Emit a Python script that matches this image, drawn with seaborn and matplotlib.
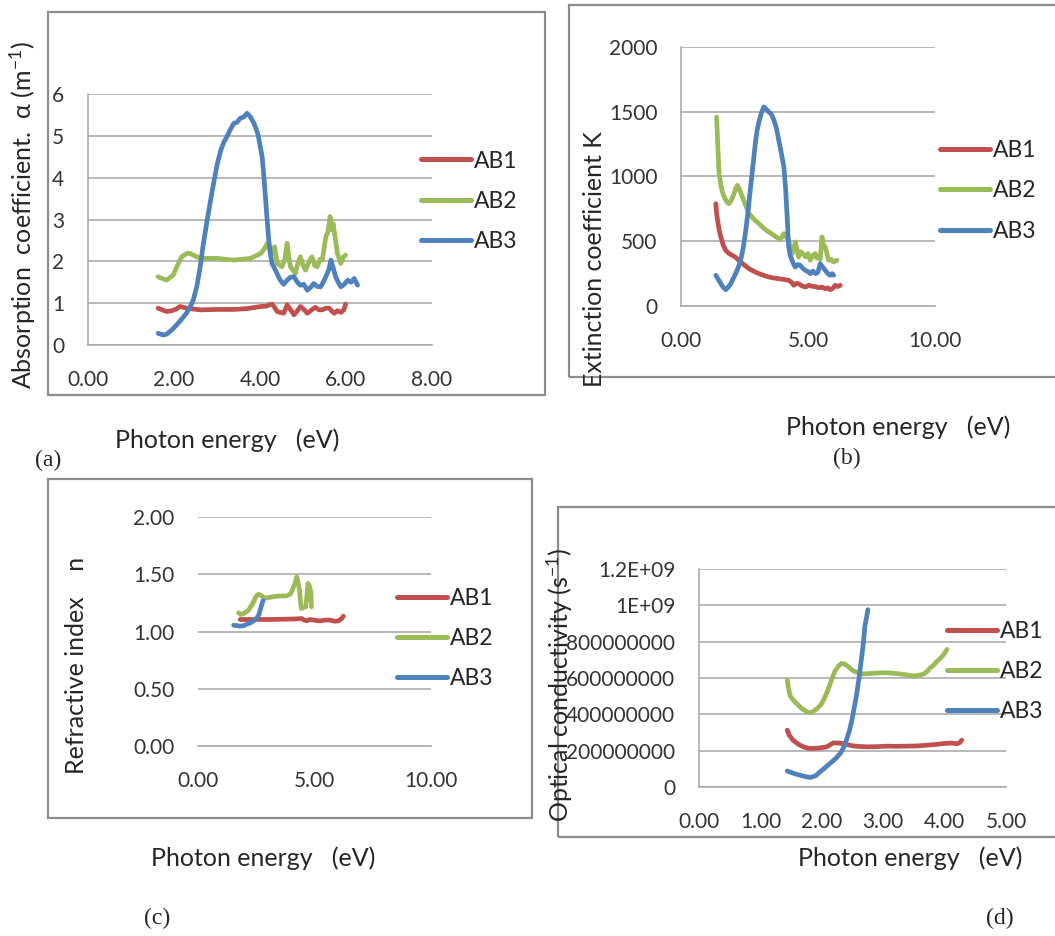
import numpy as np
import pandas as pd
import matplotlib
matplotlib.use("Agg")
import matplotlib.pyplot as plt
import seaborn as sns
from matplotlib.patches import Rectangle
from matplotlib.lines import Line2D

sns.set_style("white")
plt.rcParams["font.family"] = ["Lato", "DejaVu Sans"]
plt.rcParams["mathtext.default"] = "regular"

samples = ["AB1", "AB2", "AB3"]
colors = ["#C0504D", "#9BBB59", "#4F81BD"]

# ---------------- (a) absorption coefficient ----------------
a_ab1_x = [1.63, 1.75, 1.83, 1.95, 2.05, 2.14, 2.30, 2.61, 3.00, 3.39, 3.70, 4.02, 4.15, 4.28, 4.35, 4.40, 4.55,
           4.63, 4.70, 4.79, 4.87, 4.94, 5.02, 5.10, 5.20, 5.29, 5.37, 5.45, 5.53, 5.61, 5.68, 5.73, 5.80, 5.88,
           5.95, 5.99]
a_ab1_y = [0.88, 0.83, 0.80, 0.82, 0.86, 0.92, 0.88, 0.84, 0.85, 0.85, 0.87, 0.92, 0.93, 0.98, 0.88, 0.80, 0.76,
           0.96, 0.86, 0.72, 0.82, 0.92, 0.85, 0.76, 0.84, 0.90, 0.84, 0.84, 0.88, 0.88, 0.80, 0.76, 0.82, 0.78,
           0.84, 0.98]
a_ab2_x = [1.63, 1.75, 1.83, 1.98, 2.08, 2.18, 2.30, 2.37, 2.50, 2.61, 3.00, 3.39, 3.78, 4.02, 4.10, 4.17, 4.22,
           4.28, 4.34, 4.40, 4.51, 4.58, 4.63, 4.67, 4.71, 4.82, 4.88, 4.94, 5.00, 5.06, 5.14, 5.21, 5.27, 5.33,
           5.40, 5.45, 5.53, 5.58, 5.63, 5.67, 5.70, 5.75, 5.80, 5.88, 5.94, 5.99]
a_ab2_y = [1.63, 1.58, 1.55, 1.67, 1.90, 2.11, 2.19, 2.19, 2.12, 2.07, 2.07, 2.03, 2.07, 2.19, 2.30, 2.43, 2.30,
           2.19, 2.35, 1.95, 1.87, 2.05, 2.43, 2.10, 1.87, 1.71, 1.95, 2.11, 1.90, 1.79, 2.00, 2.11, 1.90, 1.87,
           2.05, 2.03, 2.59, 2.70, 3.07, 2.75, 2.90, 2.55, 2.19, 1.95, 2.10, 2.15]
a_ab3_x = [1.63, 1.75, 1.83, 1.95, 2.06, 2.18, 2.29, 2.38, 2.45, 2.53, 2.61, 2.68, 2.76, 2.84, 2.92, 3.00, 3.09,
           3.16, 3.23, 3.31, 3.39, 3.46, 3.54, 3.62, 3.70, 3.78, 3.86, 3.95, 4.05, 4.10, 4.16, 4.20, 4.24, 4.28,
           4.32, 4.40, 4.47, 4.55, 4.63, 4.71, 4.79, 4.87, 4.94, 5.02, 5.10, 5.18, 5.25, 5.33, 5.41, 5.47, 5.53,
           5.60, 5.65, 5.70, 5.76, 5.82, 5.88, 5.96, 6.04, 6.12, 6.19, 6.27]
a_ab3_y = [0.28, 0.24, 0.26, 0.36, 0.48, 0.62, 0.76, 0.92, 1.08, 1.40, 1.87, 2.40, 2.91, 3.40, 3.86, 4.30, 4.66,
           4.85, 4.98, 5.15, 5.30, 5.32, 5.42, 5.45, 5.54, 5.45, 5.30, 5.05, 4.50, 3.90, 3.07, 2.55, 2.19, 1.95,
           1.87, 1.70, 1.55, 1.45, 1.55, 1.62, 1.63, 1.50, 1.43, 1.45, 1.31, 1.38, 1.47, 1.40, 1.39, 1.50, 1.63,
           1.80, 2.03, 1.85, 1.63, 1.50, 1.39, 1.45, 1.55, 1.50, 1.59, 1.43]

# ---------------- (b) extinction coefficient ----------------
b_ab1_x = [1.37, 1.40, 1.44, 1.50, 1.57, 1.66, 1.76, 1.89, 2.02, 2.15, 2.28, 2.48, 2.68, 2.87, 3.07, 3.26, 3.46,
           3.66, 3.85, 4.05, 4.24, 4.34, 4.44, 4.54, 4.63, 4.76, 4.90, 5.03, 5.16, 5.29, 5.42, 5.55, 5.68, 5.78,
           5.87, 5.97, 6.07, 6.17, 6.27]
b_ab1_y = [790, 720, 662, 590, 533, 470, 430, 405, 391, 375, 353, 318, 288, 268, 250, 236, 224, 216, 211, 205, 198,
           185, 160, 175, 172, 155, 147, 160, 152, 150, 141, 145, 134, 140, 126, 135, 160, 150, 160]
b_ab2_x = [1.40, 1.42, 1.44, 1.47, 1.50, 1.57, 1.63, 1.70, 1.80, 1.89, 1.99, 2.09, 2.15, 2.22, 2.30, 2.42, 2.55,
           2.68, 2.87, 3.07, 3.26, 3.46, 3.66, 3.85, 3.95, 4.05, 4.15, 4.24, 4.30, 4.37, 4.44, 4.50, 4.57, 4.63,
           4.70, 4.80, 4.90, 5.00, 5.09, 5.19, 5.29, 5.35, 5.42, 5.48, 5.55, 5.62, 5.68, 5.75, 5.81, 5.91, 6.01,
           6.14]
b_ab2_y = [1459, 1370, 1279, 1140, 1022, 930, 880, 842, 805, 790, 820, 867, 905, 932, 900, 842, 775, 713, 670, 636,
           600, 571, 545, 520, 525, 559, 530, 507, 450, 405, 440, 495, 430, 378, 420, 405, 380, 405, 353, 390, 405,
           370, 378, 360, 533, 460, 456, 400, 353, 360, 340, 353]
b_ab3_x = [1.37, 1.47, 1.57, 1.66, 1.76, 1.86, 1.96, 2.05, 2.15, 2.25, 2.35, 2.45, 2.55, 2.65, 2.74, 2.84, 2.94,
           3.00, 3.07, 3.16, 3.26, 3.36, 3.46, 3.56, 3.66, 3.76, 3.85, 3.95, 4.05, 4.12, 4.18, 4.21, 4.24, 4.30,
           4.37, 4.44, 4.50, 4.60, 4.70, 4.80, 4.90, 5.00, 5.09, 5.19, 5.29, 5.39, 5.48, 5.58, 5.68, 5.78, 5.87,
           5.95, 6.01]
b_ab3_y = [237, 205, 172, 145, 126, 145, 172, 210, 250, 295, 353, 450, 584, 750, 919, 1100, 1279, 1360, 1421, 1490,
           1537, 1520, 1498, 1480, 1434, 1370, 1279, 1180, 1073, 900, 687, 560, 456, 390, 353, 320, 301, 320, 314,
           290, 275, 265, 250, 270, 250, 260, 327, 300, 275, 250, 237, 250, 237]

# ---------------- (c) refractive index ----------------
c_ab1_x = [1.81, 2.39, 3.10, 3.81, 4.20, 4.46, 4.55, 4.67, 4.80, 4.96, 5.10, 5.24, 5.45, 5.67, 5.85, 6.03, 6.17, 6.24]
c_ab1_y = [1.105, 1.105, 1.105, 1.108, 1.110, 1.113, 1.100, 1.093, 1.105, 1.100, 1.095, 1.093, 1.100, 1.100, 1.090,
           1.093, 1.113, 1.134]
c_ab2_x = [1.74, 1.85, 1.96, 2.17, 2.39, 2.50, 2.60, 2.74, 2.89, 3.10, 3.46, 3.81, 3.98, 4.10, 4.18, 4.24, 4.30,
           4.36, 4.40, 4.44, 4.54, 4.62, 4.67, 4.72, 4.78, 4.84, 4.87]
c_ab2_y = [1.163, 1.150, 1.157, 1.186, 1.260, 1.310, 1.326, 1.310, 1.290, 1.300, 1.310, 1.310, 1.330, 1.390, 1.430,
           1.477, 1.420, 1.360, 1.250, 1.200, 1.210, 1.215, 1.300, 1.420, 1.400, 1.346, 1.215]
c_ab3_x = [1.53, 1.70, 1.81, 1.95, 2.10, 2.25, 2.39, 2.48, 2.56, 2.62, 2.67, 2.73, 2.79]
c_ab3_y = [1.055, 1.050, 1.047, 1.050, 1.064, 1.075, 1.093, 1.110, 1.128, 1.150, 1.190, 1.230, 1.270]

# ---------------- (d) optical conductivity ----------------
d_ab1_x = [1.437, 1.47, 1.53, 1.62, 1.70, 1.78, 1.86, 1.97, 2.08, 2.15, 2.19, 2.27, 2.35, 2.43, 2.51, 2.62, 2.73,
           2.90, 3.06, 3.22, 3.38, 3.55, 3.71, 3.85, 3.98, 4.10, 4.20, 4.25, 4.28]
d_ab1_y = [313e6, 285e6, 258e6, 235e6, 221e6, 213e6, 212e6, 215e6, 221e6, 235e6, 243e6, 242e6, 239e6, 232e6,
           226e6, 223e6, 221e6, 222e6, 225e6, 224e6, 225e6, 226e6, 230e6, 234e6, 239e6, 242e6, 238e6, 245e6, 258e6]
d_ab2_x = [1.437, 1.45, 1.48, 1.52, 1.56, 1.62, 1.67, 1.73, 1.78, 1.84, 1.89, 1.95, 2.00, 2.05, 2.10, 2.16, 2.21,
           2.27, 2.32, 2.38, 2.43, 2.49, 2.54, 2.60, 2.65, 2.75, 2.84, 2.95, 3.06, 3.17, 3.28, 3.39, 3.49, 3.58,
           3.66, 3.71, 3.76, 3.82, 3.87, 3.93, 3.98, 4.04]
d_ab2_y = [589e6, 560e6, 506e6, 485e6, 469e6, 450e6, 433e6, 420e6, 410e6, 412e6, 423e6, 440e6, 460e6, 495e6,
           534e6, 590e6, 635e6, 665e6, 681e6, 675e6, 663e6, 645e6, 635e6, 628e6, 622e6, 624e6, 626e6, 628e6,
           629e6, 626e6, 622e6, 617e6, 611e6, 615e6, 622e6, 635e6, 654e6, 670e6, 690e6, 708e6, 727e6, 758e6]
d_ab3_x = [1.437, 1.50, 1.59, 1.70, 1.81, 1.90, 1.97, 2.05, 2.13, 2.22, 2.30, 2.36, 2.40, 2.45, 2.49, 2.53, 2.57,
           2.61, 2.65, 2.68, 2.70, 2.73, 2.75]
d_ab3_y = [88e6, 80e6, 70e6, 60e6, 52e6, 62e6, 83e6, 105e6, 129e6, 155e6, 184e6, 220e6, 258e6, 310e6, 368e6,
           440e6, 515e6, 610e6, 718e6, 800e6, 883e6, 935e6, 976e6]

# tick values / labels
a_xticks = [0, 2, 4, 6, 8]
a_yticks = [0, 1, 2, 3, 4, 5, 6]
b_xticks = [0, 5, 10]
b_yticks = [0, 500, 1000, 1500, 2000]
c_xticks = [0, 5, 10]
c_yticks = [0.0, 0.5, 1.0, 1.5, 2.0]
d_xticks = [0, 1, 2, 3, 4, 5]
d_yticks = [0, 2e8, 4e8, 6e8, 8e8, 1e9, 1.2e9]
d_ytick_labels = ["0", "200000000", "400000000", "600000000", "800000000", "1E+09", "1.2E+09"]

W, H = 1055, 936
fig = plt.figure(figsize=(W / 100, H / 100), dpi=100)

GRID = "#a6a6a6"
BOX = "#8c8c8c"
TICKC = "#333333"


def axes_px(l, t, r, b):
    return fig.add_axes([l / W, 1 - b / H, (r - l) / W, (b - t) / H])


def long_df(xs, ys):
    rows = []
    for s, x, y in zip(samples, xs, ys):
        for i, (xx, yy) in enumerate(zip(x, y)):
            rows.append({"energy": xx, "value": yy, "sample": s, "order": i})
    return pd.DataFrame(rows)


def style_axes(ax, xlim, ylim, xticks, yticks, xfmt, ylabels, show_left=True):
    ax.set_xlim(*xlim)
    ax.set_ylim(*ylim)
    ax.set_xticks(xticks, [xfmt.format(v) for v in xticks])
    ax.set_yticks(yticks, ylabels)
    ax.grid(axis="y", color=GRID, lw=1.1)
    ax.grid(axis="x", visible=False)
    ax.set_axisbelow(True)
    for s in ["top", "right"]:
        ax.spines[s].set_visible(False)
    ax.spines["bottom"].set_color(GRID)
    ax.spines["bottom"].set_linewidth(1.1)
    ax.spines["left"].set_color(GRID)
    ax.spines["left"].set_linewidth(1.1)
    ax.spines["left"].set_visible(show_left)
    ax.tick_params(axis="both", direction="out", length=6, width=1.1, color=GRID,
                   labelsize=15, labelcolor=TICKC)
    ax.tick_params(axis="y", pad=11)
    ax.tick_params(axis="x", pad=12)
    ax.set_xlabel("")
    ax.set_ylabel("")
    ax.patch.set_alpha(0)


def draw(ax, xs, ys):
    df = long_df(xs, ys)
    sns.lineplot(data=df, x="energy", y="value", hue="sample", palette=colors, hue_order=samples,
                 sort=False, estimator=None, legend=False, lw=3.4, ax=ax, zorder=3)
    for ln in ax.lines:
        ln.set_solid_capstyle("round")
        ln.set_solid_joinstyle("round")


def legend(ax, left, cy):
    handles = [Line2D([0], [0], color=c, lw=3.6) for c in colors]
    ax.legend(handles, samples, loc="center left", bbox_to_anchor=(left / W, 1 - cy / H),
              bbox_transform=fig.transFigure, frameon=False, fontsize=16.5, handlelength=2.2,
              handletextpad=0.12, labelspacing=0.85, borderpad=0, borderaxespad=0)


def box(l, t, r, b):
    fig.patches.append(Rectangle((l / W, 1 - b / H), (r - l) / W, (b - t) / H, transform=fig.transFigure,
                                 fill=False, ec=BOX, lw=1.6, zorder=0))


LBL = 18
# panel (a)
box(48, 12, 545, 395)
ax_a = axes_px(88, 94, 432, 345)
draw(ax_a, [a_ab1_x, a_ab2_x, a_ab3_x], [a_ab1_y, a_ab2_y, a_ab3_y])
style_axes(ax_a, (0, 8), (0, 6), a_xticks, a_yticks, "{:.2f}", [str(v) for v in a_yticks])
legend(ax_a, 421, 201.5)
fig.text(23 / W, 1 - 215 / H, "Absorption  coefficient.  α (m$^{-1}$)", rotation=90, ha="center", va="center",
         fontsize=LBL)
fig.text(227 / W, 1 - 440 / H, "Photon energy   (eV)", ha="center", va="center", fontsize=LBL)
fig.text(48 / W, 1 - 460 / H, "(a)", ha="center", va="center", fontsize=17, family="Liberation Serif")

# panel (b)
box(569, 5, 1060, 377)
ax_b = axes_px(681, 47, 935, 306)
draw(ax_b, [b_ab1_x, b_ab2_x, b_ab3_x], [b_ab1_y, b_ab2_y, b_ab3_y])
style_axes(ax_b, (0, 10), (0, 2000), b_xticks, b_yticks, "{:.2f}", [str(v) for v in b_yticks])
legend(ax_b, 940, 191)
fig.text(595 / W, 1 - 259 / H, "Extinction coefficient K", rotation=90, ha="center", va="center", fontsize=LBL)
fig.text(898 / W, 1 - 427 / H, "Photon energy   (eV)", ha="center", va="center", fontsize=LBL)
fig.text(847 / W, 1 - 458 / H, "(b)", ha="center", va="center", fontsize=17, family="Liberation Serif")

# panel (c)
box(48, 479, 532, 818)
ax_c = axes_px(198, 517, 431, 746)
draw(ax_c, [c_ab1_x, c_ab2_x, c_ab3_x], [c_ab1_y, c_ab2_y, c_ab3_y])
style_axes(ax_c, (0, 10), (0, 2), c_xticks, c_yticks, "{:.2f}", ["{:.2f}".format(v) for v in c_yticks],
           show_left=False)
legend(ax_c, 397, 638.5)
fig.text(77 / W, 1 - 665 / H, "Refractive index    n", rotation=90, ha="center", va="center", fontsize=LBL)
fig.text(263 / W, 1 - 858 / H, "Photon energy   (eV)", ha="center", va="center", fontsize=LBL)
fig.text(157 / W, 1 - 918 / H, "(c)", ha="center", va="center", fontsize=17, family="Liberation Serif")

# panel (d)
box(558, 507, 1060, 837)
ax_d = axes_px(699, 569, 1006, 787)
draw(ax_d, [d_ab1_x, d_ab2_x, d_ab3_x], [d_ab1_y, d_ab2_y, d_ab3_y])
style_axes(ax_d, (0, 5), (0, 1.2e9), d_xticks, d_yticks, "{:.2f}", d_ytick_labels)
legend(ax_d, 947, 671.5)
fig.text(560 / W, 1 - 685 / H, "Optical conductivity (s$^{-1}$)", rotation=90, ha="center", va="center",
         fontsize=LBL, zorder=10)
fig.text(910 / W, 1 - 858 / H, "Photon energy   (eV)", ha="center", va="center", fontsize=LBL)
fig.text(1000 / W, 1 - 918 / H, "(d)", ha="center", va="center", fontsize=17, family="Liberation Serif")

fig.savefig("out.png", dpi=100)
